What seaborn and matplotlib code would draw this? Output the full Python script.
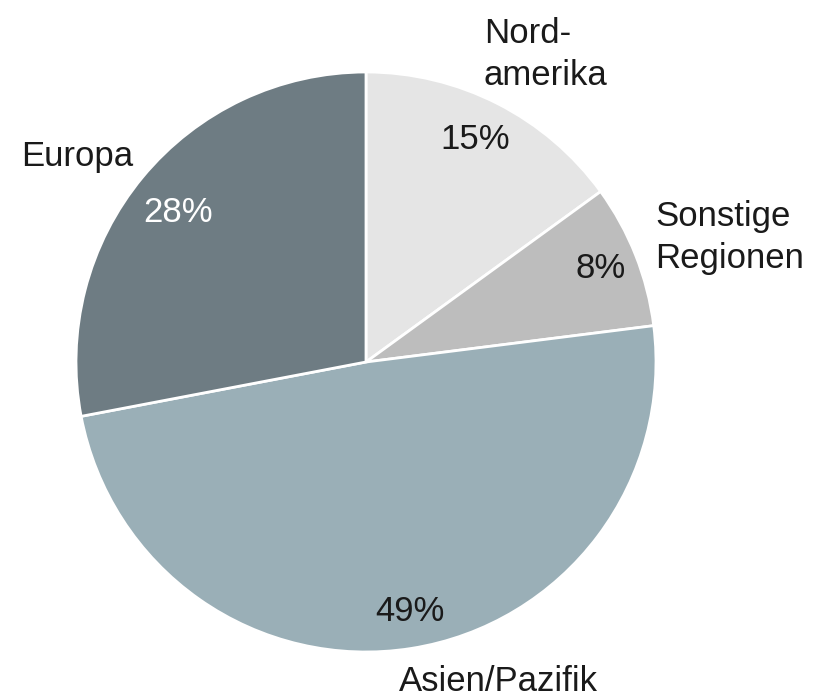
import matplotlib
matplotlib.use("Agg")
import matplotlib.pyplot as plt
import seaborn as sns

sns.set_theme(style="white")
plt.rcParams["font.family"] = ["Liberation Sans", "DejaVu Sans"]

regions = ["Nord-\namerika", "Sonstige\nRegionen", "Asien/Pazifik", "Europa"]
shares = [15, 8, 49, 28]
colors = ["#e5e5e5", "#bdbdbd", "#9aafb7", "#6e7c83"]
pct_colors = ["#1a1a1a", "#1a1a1a", "#1a1a1a", "white"]

fig = plt.figure(figsize=(8.24, 6.97), dpi=100)
ax = fig.add_axes([76 / 824, 45 / 697, 580 / 824, 580 / 697])

wedges, texts, autotexts = ax.pie(
    shares,
    labels=regions,
    colors=colors,
    startangle=90,
    counterclock=False,
    autopct="%d%%",
    pctdistance=0.86,
    labeldistance=1.2,
    wedgeprops=dict(edgecolor="white", linewidth=2),
    textprops=dict(fontsize=25),
)

# label placement tweaks (data units, radius = 1)
label_pos = [(0.62, 1.06), (1.255, 0.428), (0.455, -1.103), (-0.997, 0.707)]
pct_pos = [(0.376, 0.766), (0.81, 0.324), (0.152, -0.862), (-0.648, 0.517)]
for t, p in zip(texts, label_pos):
    t.set_position(p)
    t.set_ha("center")
    t.set_va("center")
    t.set_multialignment("left")
    t.set_color("#1a1a1a")
    t.set_linespacing(1.35)
for t, p, c in zip(autotexts, pct_pos, pct_colors):
    t.set_position(p)
    t.set_ha("center")
    t.set_va("center")
    t.set_color(c)

ax.set_xlim(-1, 1)
ax.set_ylim(-1, 1)
ax.set_aspect("equal")

fig.savefig("out.png", dpi=100)
